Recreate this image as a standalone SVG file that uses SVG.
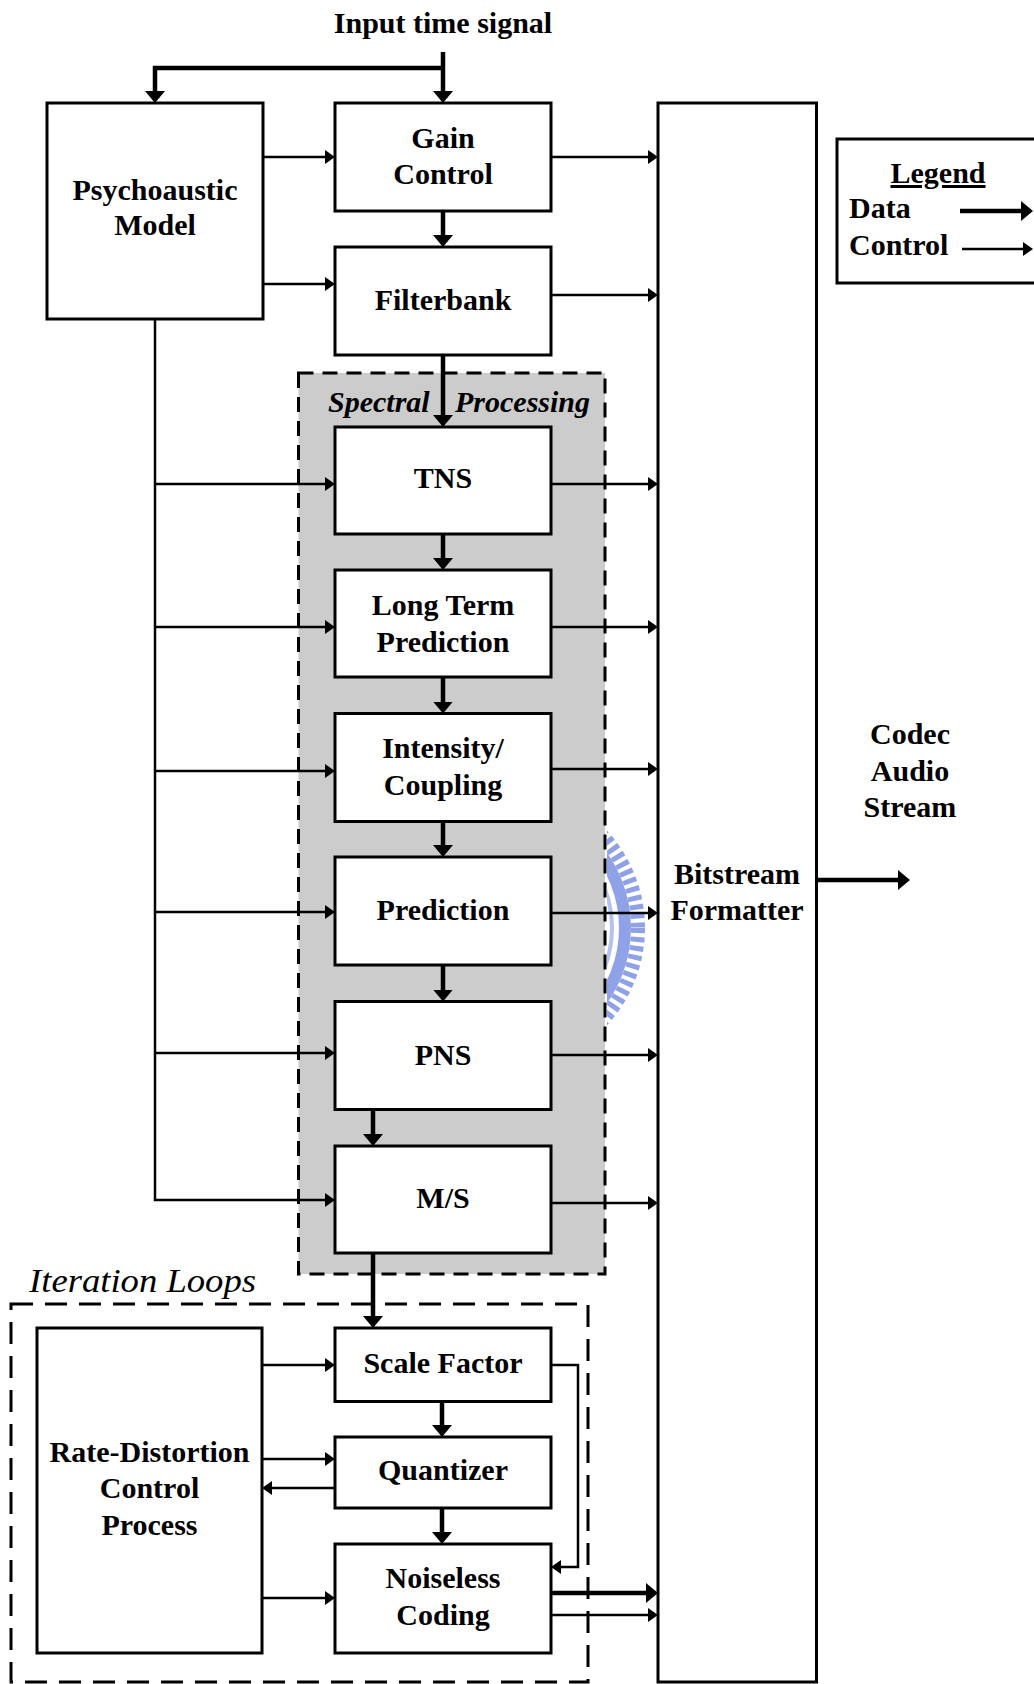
<svg xmlns="http://www.w3.org/2000/svg" width="1034" height="1684" viewBox="0 0 1034 1684">
<style>
.box{fill:#fff;stroke:#000;stroke-width:3}
.lbl{font-family:"Liberation Serif","Times New Roman",serif;font-weight:bold;font-size:30px;fill:#000;text-anchor:middle}
.ital{font-family:"Liberation Serif","Times New Roman",serif;font-style:italic;fill:#000}
.data{fill:none;stroke:#000;stroke-width:4.5;marker-end:url(#ad)}
.ctrl{fill:none;stroke:#000;stroke-width:2.5;marker-end:url(#ac)}
.line{fill:none;stroke:#000;stroke-width:2.5}
</style>
<defs>
<marker id="ad" markerUnits="userSpaceOnUse" markerWidth="12" markerHeight="20" refX="6" refY="10" orient="auto"><path d="M0,0 L12,10 L0,20 z" fill="#000"/></marker>
<marker id="ac" markerUnits="userSpaceOnUse" markerWidth="10" markerHeight="14" refX="5" refY="7" orient="auto"><path d="M0,0 L10,7 L0,14 z" fill="#000"/></marker>
<clipPath id="wm"><rect x="607" y="800" width="49" height="260"/></clipPath>
</defs>
<rect width="1034" height="1684" fill="#fff"/>

<g id="watermark" clip-path="url(#wm)" fill="none">
<circle cx="501" cy="928" r="111" stroke="#b4c2f2" stroke-width="4"/>
<circle cx="501" cy="928" r="124" stroke="#8fa2e8" stroke-width="12"/>
<circle cx="501" cy="928" r="137" stroke="#8fa2e8" stroke-width="14" stroke-dasharray="5 4"/>
</g>

<g id="spectral-processing">
<rect x="298.5" y="373" width="306.5" height="901" fill="#cccccc" stroke="#000" stroke-width="3" stroke-dasharray="15 9"/>
<text class="ital" font-weight="bold" font-size="30" x="328" y="412">Spectral</text>
<text class="ital" font-weight="bold" font-size="30" x="455" y="412">Processing</text>
</g>

<g id="iteration-loops">
<rect x="11" y="1304" width="577" height="378" fill="none" stroke="#000" stroke-width="3" stroke-dasharray="22 12"/>
<text class="ital" font-size="34" x="29" y="1292" textLength="227" lengthAdjust="spacingAndGlyphs">Iteration Loops</text>
</g>

<text id="input-label" class="lbl" x="443" y="33">Input time signal</text>

<g id="connectors">
<path class="data" d="M443,52 V97"/>
<path class="data" d="M443,68 H155 V97"/>
<path class="data" d="M443,211 V241"/>
<path class="data" d="M443,355 V421"/>
<path class="data" d="M443,534 V564"/>
<path class="data" d="M443,677 V707.5"/>
<path class="data" d="M443,821.5 V851"/>
<path class="data" d="M443,965 V995.5"/>
<path class="data" d="M373,1109.5 V1140"/>
<path class="data" d="M373,1253 V1322"/>
<path class="data" d="M442,1401.5 V1431"/>
<path class="data" d="M442,1508 V1538"/>
<path class="data" d="M551,1593 H652"/>
<path class="data" d="M816.5,880 H904"/>

<path class="ctrl" d="M263,157 H330"/>
<path class="ctrl" d="M263,284 H330"/>
<path class="ctrl" d="M551,157 H653"/>
<path class="ctrl" d="M551,295 H653"/>
<path class="ctrl" d="M155,319 V1200 H330"/>
<path class="ctrl" d="M155,484 H330"/>
<path class="ctrl" d="M155,627 H330"/>
<path class="ctrl" d="M155,771 H330"/>
<path class="ctrl" d="M155,912 H330"/>
<path class="ctrl" d="M155,1053 H330"/>
<path class="ctrl" d="M551,484 H653"/>
<path class="ctrl" d="M551,627 H653"/>
<path class="ctrl" d="M551,769 H653"/>
<path class="ctrl" d="M551,913 H653"/>
<path class="ctrl" d="M551,1055 H653"/>
<path class="ctrl" d="M551,1203 H653"/>
<path class="ctrl" d="M262,1365 H330"/>
<path class="ctrl" d="M262,1459 H330"/>
<path class="ctrl" d="M335,1488 H267"/>
<path class="ctrl" d="M262,1598 H330"/>
<path class="ctrl" d="M551,1365 H578 V1567 H556"/>
<path class="ctrl" d="M551,1615 H653"/>
</g>

<g id="psychoacoustic-model">
<rect class="box" x="47" y="103" width="216" height="216"/>
<text class="lbl" x="155" y="200">Psychoaustic</text>
<text class="lbl" x="155" y="235">Model</text>
</g>
<g id="gain-control">
<rect class="box" x="335" y="103" width="216" height="108"/>
<text class="lbl" x="443" y="148">Gain</text>
<text class="lbl" x="443" y="184">Control</text>
</g>
<g id="filterbank">
<rect class="box" x="335" y="247" width="216" height="108"/>
<text class="lbl" x="443" y="310">Filterbank</text>
</g>
<g id="tns">
<rect class="box" x="335" y="427" width="216" height="107"/>
<text class="lbl" x="443" y="488">TNS</text>
</g>
<g id="long-term-prediction">
<rect class="box" x="335" y="570" width="216" height="107"/>
<text class="lbl" x="443" y="615">Long Term</text>
<text class="lbl" x="443" y="652">Prediction</text>
</g>
<g id="intensity-coupling">
<rect class="box" x="335" y="713.5" width="216" height="108"/>
<text class="lbl" x="443" y="758">Intensity/</text>
<text class="lbl" x="443" y="795">Coupling</text>
</g>
<g id="prediction">
<rect class="box" x="335" y="857" width="216" height="108"/>
<text class="lbl" x="443" y="920">Prediction</text>
</g>
<g id="pns">
<rect class="box" x="335" y="1001.5" width="216" height="108"/>
<text class="lbl" x="443" y="1065">PNS</text>
</g>
<g id="ms">
<rect class="box" x="335" y="1146" width="216" height="107"/>
<text class="lbl" x="443" y="1208">M/S</text>
</g>
<g id="scale-factor">
<rect class="box" x="335" y="1328" width="216" height="73.5"/>
<text class="lbl" x="443" y="1373">Scale Factor</text>
</g>
<g id="quantizer">
<rect class="box" x="335" y="1437" width="216" height="71"/>
<text class="lbl" x="443" y="1480">Quantizer</text>
</g>
<g id="noiseless-coding">
<rect class="box" x="335" y="1544" width="216" height="109"/>
<text class="lbl" x="443" y="1588">Noiseless</text>
<text class="lbl" x="443" y="1625">Coding</text>
</g>
<g id="rate-distortion">
<rect class="box" x="37" y="1328" width="225" height="325"/>
<text class="lbl" x="149.5" y="1462">Rate-Distortion</text>
<text class="lbl" x="149.5" y="1498">Control</text>
<text class="lbl" x="149.5" y="1535">Process</text>
</g>
<g id="bitstream-formatter">
<rect class="box" x="658" y="103" width="158.5" height="1579"/>
<text class="lbl" x="737" y="884">Bitstream</text>
<text class="lbl" x="737" y="920">Formatter</text>
</g>
<g id="codec-audio-stream">
<text class="lbl" x="910" y="744">Codec</text>
<text class="lbl" x="910" y="781">Audio</text>
<text class="lbl" x="910" y="817">Stream</text>
</g>
<g id="legend">
<rect class="box" x="837" y="139" width="210" height="144"/>
<text class="lbl" x="938" y="183" text-decoration="underline">Legend</text>
<text class="lbl" x="849" y="218" style="text-anchor:start">Data</text>
<text class="lbl" x="849" y="255" style="text-anchor:start">Control</text>
<path class="data" d="M960,211 H1027"/>
<path class="ctrl" d="M962,249 H1028"/>
</g>
</svg>
